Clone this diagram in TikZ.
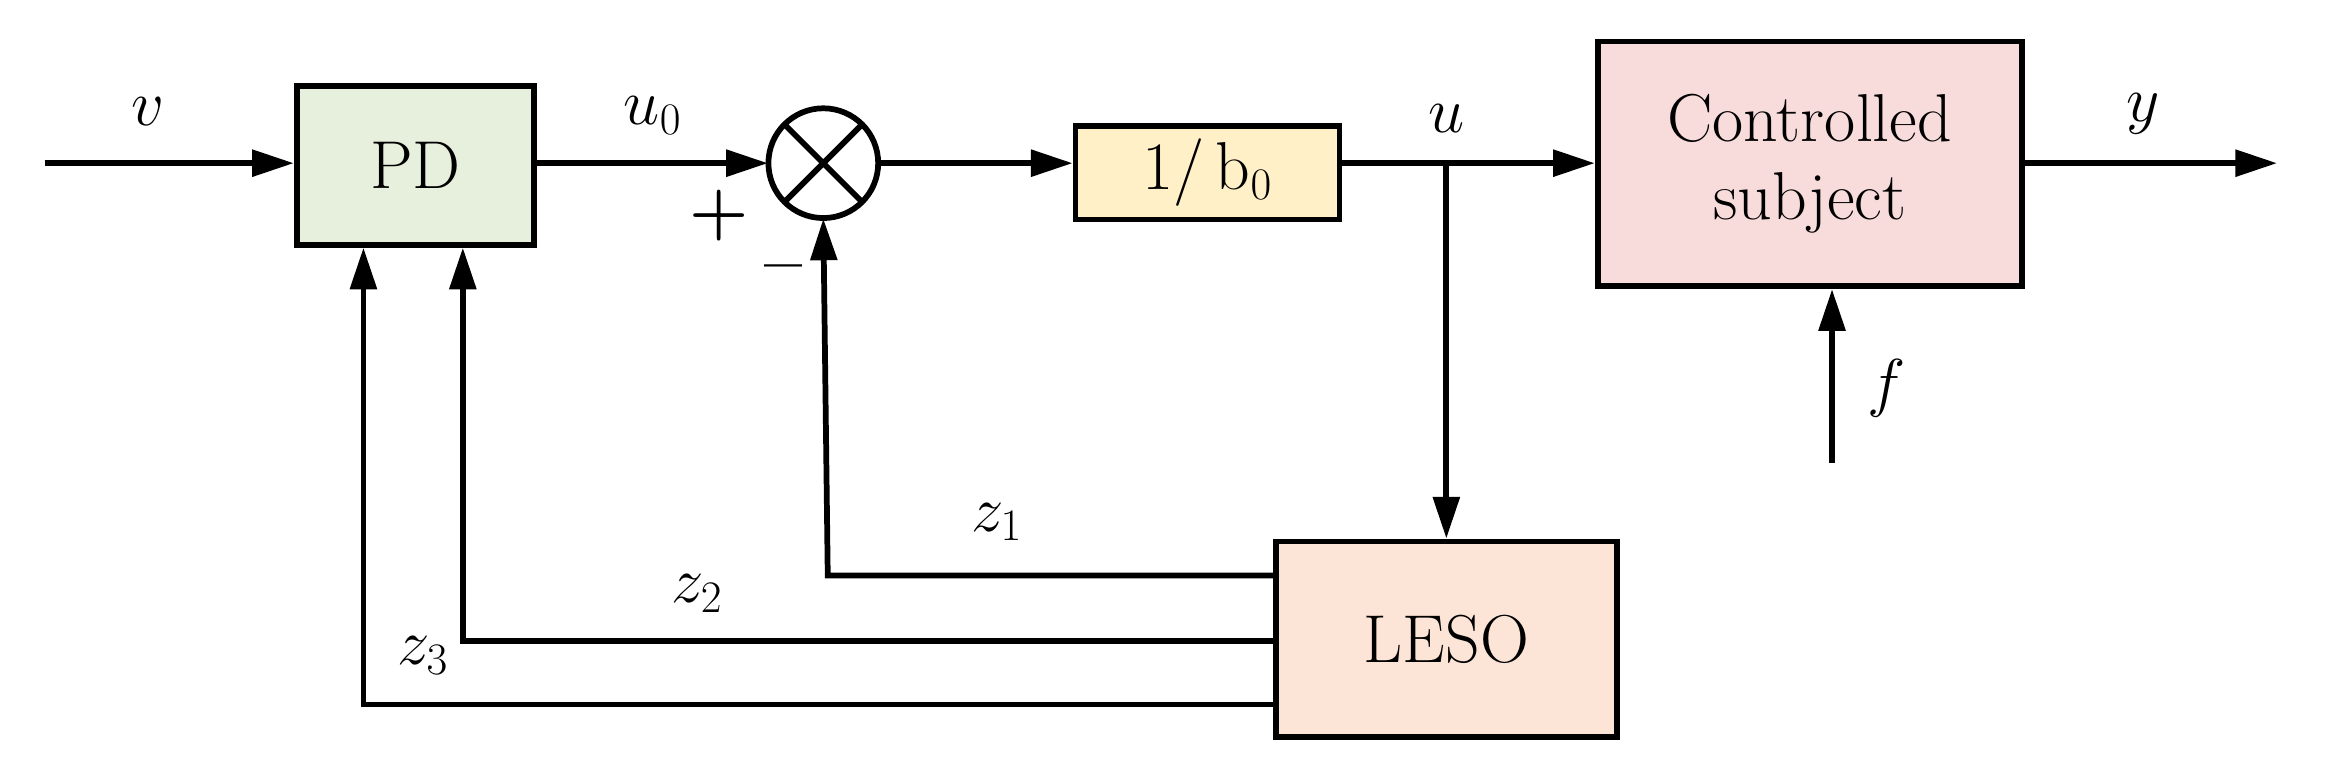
\documentclass[tikz,border=0pt]{standalone}
\usetikzlibrary{arrows.meta}
\begin{document}
\begin{tikzpicture}[x=0.02cm,y=-0.02cm,
  every node/.style={font=\fontsize{26}{30}\selectfont},
  blk/.style={draw,line width=2.2pt,inner sep=0pt},
  ln/.style={line width=2.2pt},
  ar/.style={ln,-{Triangle[length=16pt,width=10pt]}}]
\useasboundingbox (0,0) rectangle (1568,520);
\definecolor{gr}{HTML}{E6F0DC}\definecolor{yl}{HTML}{FFF0C8}
\definecolor{pk}{HTML}{F8DBDB}\definecolor{pc}{HTML}{FCE4D6}
\node[blk,fill=gr,minimum width=160*0.02cm,minimum height=107*0.02cm] (pd) at (280,111.5) {PD};
\draw[ln] (555,110) circle (37);
\node[circle,minimum size=74*0.02cm,inner sep=0pt] (s) at (555,110) {};
\draw[ln] (555,110) ++(45:37) -- ++(225:74) (555,110) ++(135:37) -- ++(-45:74);
\node[blk,fill=yl,minimum width=178*0.02cm,minimum height=63*0.02cm] (b) at (814,116.5) {1/\,b$_0$};
\node[blk,fill=pk,minimum width=286*0.02cm,minimum height=165*0.02cm,align=center] (p) at (1220,110.5) {Controlled\\subject};
\node[blk,fill=pc,minimum width=230*0.02cm,minimum height=132*0.02cm] (l) at (975,431) {LESO};
\coordinate (in) at (30,110);
\coordinate (out) at (1535,110);
\coordinate (f) at (1235,312);
\coordinate (br) at (975,110);
\draw[ar] (in) -- (pd.west|-in);
\draw[ar] (pd.east|-in) -- (s.west);
\draw[ar] (s.east) -- (b.west|-s);
\draw[ar] (b.east|-in) -- (p.west|-in);
\draw[ar] (p.east|-in) -- (out);
\draw[ar] (f) -- (p.south-|f);
\draw[ar] (br) -- (l.north);
\draw[ar] (l.west|-0,388) -- (558,388) -- (s.south);
\draw[ar] (l.west|-0,432) -- (312,432) -- (pd.south-|312,0);
\draw[ar] (l.west|-0,475) -- (245,475) -- (pd.south-|245,0);
\node at (100,75) {$v$};
\node at (440,78) {$u_0$};
\node at (975,80) {$u$};
\node at (1445,77) {$y$};
\node at (1272,262) {$f$};
\node at (485,145) {\textbf{+}};
\node at (528,185) {\textbf{\textendash}};
\node at (672,352) {$z_1$};
\node at (470,400) {$z_2$};
\node at (285,442) {$z_3$};
\end{tikzpicture}
\end{document}
